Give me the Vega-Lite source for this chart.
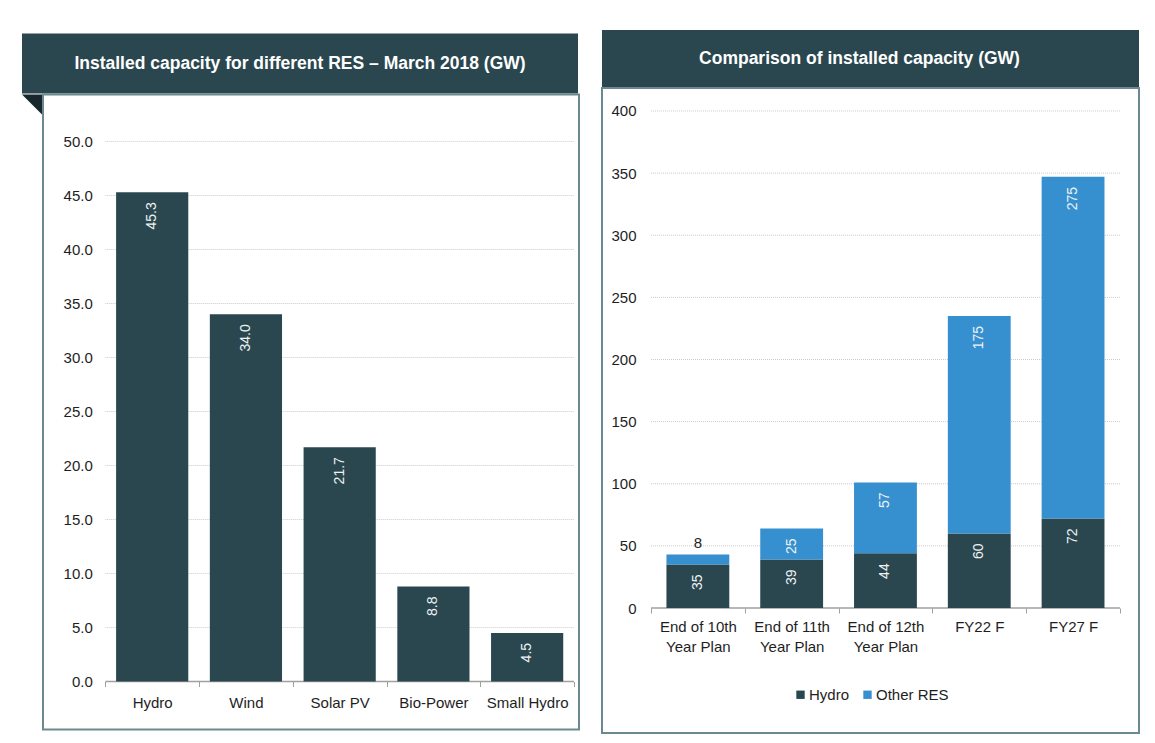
{
  "$schema": "https://vega.github.io/schema/vega-lite/v6.json",
  "padding": {"left": 22, "top": 30, "right": 0, "bottom": 0},
  "autosize": {"type": "pad"},
  "background": "white",
  "config": {
    "font": "Liberation Sans",
    "view": {"stroke": null},
    "legend": {"layout": {"bottom": {"anchor": "middle"}}}
  },
  "hconcat": [
    {
      "vconcat": [
        {
          "width": 556,
          "height": 60,
          "view": {"fill": "#2a4750", "stroke": null},
          "data": {"values": [{"t": "Installed capacity for different RES – March 2018 (GW)"}]},
          "mark": {"type": "text", "color": "white", "fontSize": 17.5, "fontWeight": "bold"},
          "encoding": {"text": {"field": "t"}}
        },
        {
          "hconcat": [
            {
              "width": 20,
              "height": 20,
              "view": {"stroke": null},
              "data": {"values": [{}]},
              "mark": {"type": "point", "shape": "M -1 -1 L 1 -1 L 1 1 Z", "size": 400, "filled": true, "color": "#17272c", "opacity": 1, "strokeWidth": 0},
              "encoding": {}
            },
            {
              "width": 536,
              "height": 635,
              "view": {"stroke": "#6b8990", "strokeWidth": 2},
              "data": {"values": [
                {"cat": "Hydro", "value": 45.3},
                {"cat": "Wind", "value": 34.0},
                {"cat": "Solar PV", "value": 21.7},
                {"cat": "Bio-Power", "value": 8.8},
                {"cat": "Small Hydro", "value": 4.5}
              ]},
              "encoding": {
                "x": {
                  "field": "cat", "type": "nominal", "title": null,
                  "scale": {"domain": ["Hydro", "Wind", "Solar PV", "Bio-Power", "Small Hydro"], "paddingInner": 0, "paddingOuter": 0.359, "align": 0.926},
                  "axis": {"offset": -48, "domain": false, "grid": false, "tickBand": "extent", "tickSize": 5, "tickColor": "#a0a0a0", "tickWidth": 1, "labelAngle": 0, "labelFontSize": 15, "labelPadding": 9, "labelColor": "#1e1e1e"}
                },
                "y": {
                  "field": "value", "type": "quantitative", "title": null,
                  "scale": {"domain": [-4.44, 54.35], "nice": false, "zero": false},
                  "axis": {"offset": -54.3, "values": [0, 5, 10, 15, 20, 25, 30, 35, 40, 45, 50], "format": ".1f", "domain": false, "ticks": false, "grid": false, "labelFontSize": 15, "labelPadding": 5, "labelColor": "#1e1e1e"}
                }
              },
              "layer": [
                {
                  "data": {"values": [{"value": 5}, {"value": 10}, {"value": 15}, {"value": 20}, {"value": 25}, {"value": 30}, {"value": 35}, {"value": 40}, {"value": 45}, {"value": 50}]},
                  "mark": {"type": "rule", "color": "#c9c9c9", "strokeDash": [1, 1], "strokeWidth": 1},
                  "encoding": {
                    "x": {"datum": "Hydro", "type": "nominal", "bandPosition": 0, "title": null},
                    "x2": {"datum": "Small Hydro", "bandPosition": 1}
                  }
                },
                {
                  "data": {"values": [{"value": 0}]},
                  "mark": {"type": "rule", "color": "#a0a0a0", "strokeWidth": 1.5},
                  "encoding": {
                    "x": {"datum": "Hydro", "type": "nominal", "bandPosition": 0, "title": null},
                    "x2": {"datum": "Small Hydro", "bandPosition": 1}
                  }
                },
                {
                  "mark": {"type": "bar", "color": "#2a4750", "width": {"band": 0.77}}
                },
                {
                  "mark": {"type": "text", "angle": 270, "align": "right", "baseline": "middle", "dx": -10, "color": "#eef2f3", "fontSize": 14},
                  "encoding": {"text": {"field": "value", "format": ".1f"}}
                }
              ]
            }
          ],
          "spacing": 0
        }
      ],
      "spacing": 0
    },
    {
      "vconcat": [
        {
          "width": 537,
          "height": 57,
          "view": {"fill": "#2a4750", "stroke": null},
          "data": {"values": [{"t": "Comparison of installed capacity (GW)"}]},
          "mark": {"type": "text", "color": "white", "fontSize": 17.5, "fontWeight": "bold", "dx": -11},
          "encoding": {"text": {"field": "t"}}
        },
        {
          "width": 537,
          "height": 645,
          "view": {"stroke": "#6b8990", "strokeWidth": 2},
          "data": {"values": [
            {"cat": "End of 10th Year Plan", "series": "Hydro", "value": 35},
            {"cat": "End of 10th Year Plan", "series": "Other RES", "value": 8},
            {"cat": "End of 11th Year Plan", "series": "Hydro", "value": 39},
            {"cat": "End of 11th Year Plan", "series": "Other RES", "value": 25},
            {"cat": "End of 12th Year Plan", "series": "Hydro", "value": 44},
            {"cat": "End of 12th Year Plan", "series": "Other RES", "value": 57},
            {"cat": "FY22 F", "series": "Hydro", "value": 60},
            {"cat": "FY22 F", "series": "Other RES", "value": 175},
            {"cat": "FY27 F", "series": "Hydro", "value": 72},
            {"cat": "FY27 F", "series": "Other RES", "value": 275}
          ]},
          "encoding": {
            "x": {
              "field": "cat", "type": "nominal", "title": null,
              "scale": {"domain": ["End of 10th Year Plan", "End of 11th Year Plan", "End of 12th Year Plan", "FY22 F", "FY27 F"], "paddingInner": 0, "paddingOuter": 0.3625, "align": 0.72},
              "axis": {"offset": -125, "domain": false, "grid": false, "tickBand": "extent", "tickSize": 5, "tickColor": "#a0a0a0", "tickWidth": 1, "labelAngle": 0, "labelFontSize": 15, "labelPadding": 6, "labelLineHeight": 20, "labelColor": "#1e1e1e",
                "labelExpr": "indexof(datum.label, ' Year') > 0 ? [slice(datum.label, 0, indexof(datum.label, ' Year')), 'Year Plan'] : datum.label"}
            },
            "y": {
              "field": "value", "type": "quantitative", "title": null,
              "scale": {"domain": [-100.6, 418.5], "nice": false, "zero": false},
              "axis": {"offset": -39, "values": [0, 50, 100, 150, 200, 250, 300, 350, 400], "format": "d", "domain": false, "ticks": false, "grid": false, "labelFontSize": 15, "labelPadding": 5, "labelColor": "#1e1e1e"}
            }
          },
          "layer": [
            {
              "data": {"values": [{"value": 50}, {"value": 100}, {"value": 150}, {"value": 200}, {"value": 250}, {"value": 300}, {"value": 350}, {"value": 400}]},
              "mark": {"type": "rule", "color": "#c9c9c9", "strokeDash": [1, 1], "strokeWidth": 1},
              "encoding": {
                "x": {"datum": "End of 10th Year Plan", "type": "nominal", "bandPosition": 0, "title": null},
                "x2": {"datum": "FY27 F", "bandPosition": 1}
              }
            },
            {
              "data": {"values": [{"value": 0}]},
              "mark": {"type": "rule", "color": "#a0a0a0", "strokeWidth": 1.5},
              "encoding": {
                "x": {"datum": "End of 10th Year Plan", "type": "nominal", "bandPosition": 0, "title": null},
                "x2": {"datum": "FY27 F", "bandPosition": 1}
              }
            },
            {
              "transform": [{"stack": "value", "groupby": ["cat"], "sort": [{"field": "series", "order": "ascending"}], "as": ["v0", "v1"]}],
              "mark": {"type": "bar", "width": {"band": 0.67}},
              "encoding": {
                "y": {"field": "v0", "type": "quantitative"},
                "y2": {"field": "v1"},
                "color": {
                  "field": "series", "type": "nominal",
                  "scale": {"domain": ["Hydro", "Other RES"], "range": ["#2a4750", "#3690d0"]},
                  "legend": {"orient": "bottom", "direction": "horizontal", "title": null, "offset": -46, "symbolType": "square", "symbolSize": 70, "symbolStrokeWidth": 0, "labelFontSize": 15, "labelColor": "#1e1e1e", "labelOffset": 1, "columnPadding": 10, "padding": 0}
                }
              }
            },
            {
              "transform": [
                {"stack": "value", "groupby": ["cat"], "sort": [{"field": "series", "order": "ascending"}], "as": ["v0", "v1"]},
                {"filter": "datum.value >= 10"}
              ],
              "mark": {"type": "text", "angle": 270, "align": "right", "baseline": "middle", "dx": -10, "color": "#eef2f3", "fontSize": 14},
              "encoding": {
                "y": {"field": "v1", "type": "quantitative"},
                "text": {"field": "value", "format": "d"}
              }
            },
            {
              "transform": [
                {"stack": "value", "groupby": ["cat"], "sort": [{"field": "series", "order": "ascending"}], "as": ["v0", "v1"]},
                {"filter": "datum.value < 10"}
              ],
              "mark": {"type": "text", "align": "center", "baseline": "bottom", "dy": -4, "color": "#1e1e1e", "fontSize": 15},
              "encoding": {
                "y": {"field": "v1", "type": "quantitative"},
                "text": {"field": "value", "format": "d"}
              }
            }
          ]
        }
      ],
      "spacing": 0,
      "resolve": {"scale": {"color": "independent"}}
    }
  ],
  "spacing": 21,
  "center": true,
  "resolve": {"scale": {"color": "independent"}}
}
